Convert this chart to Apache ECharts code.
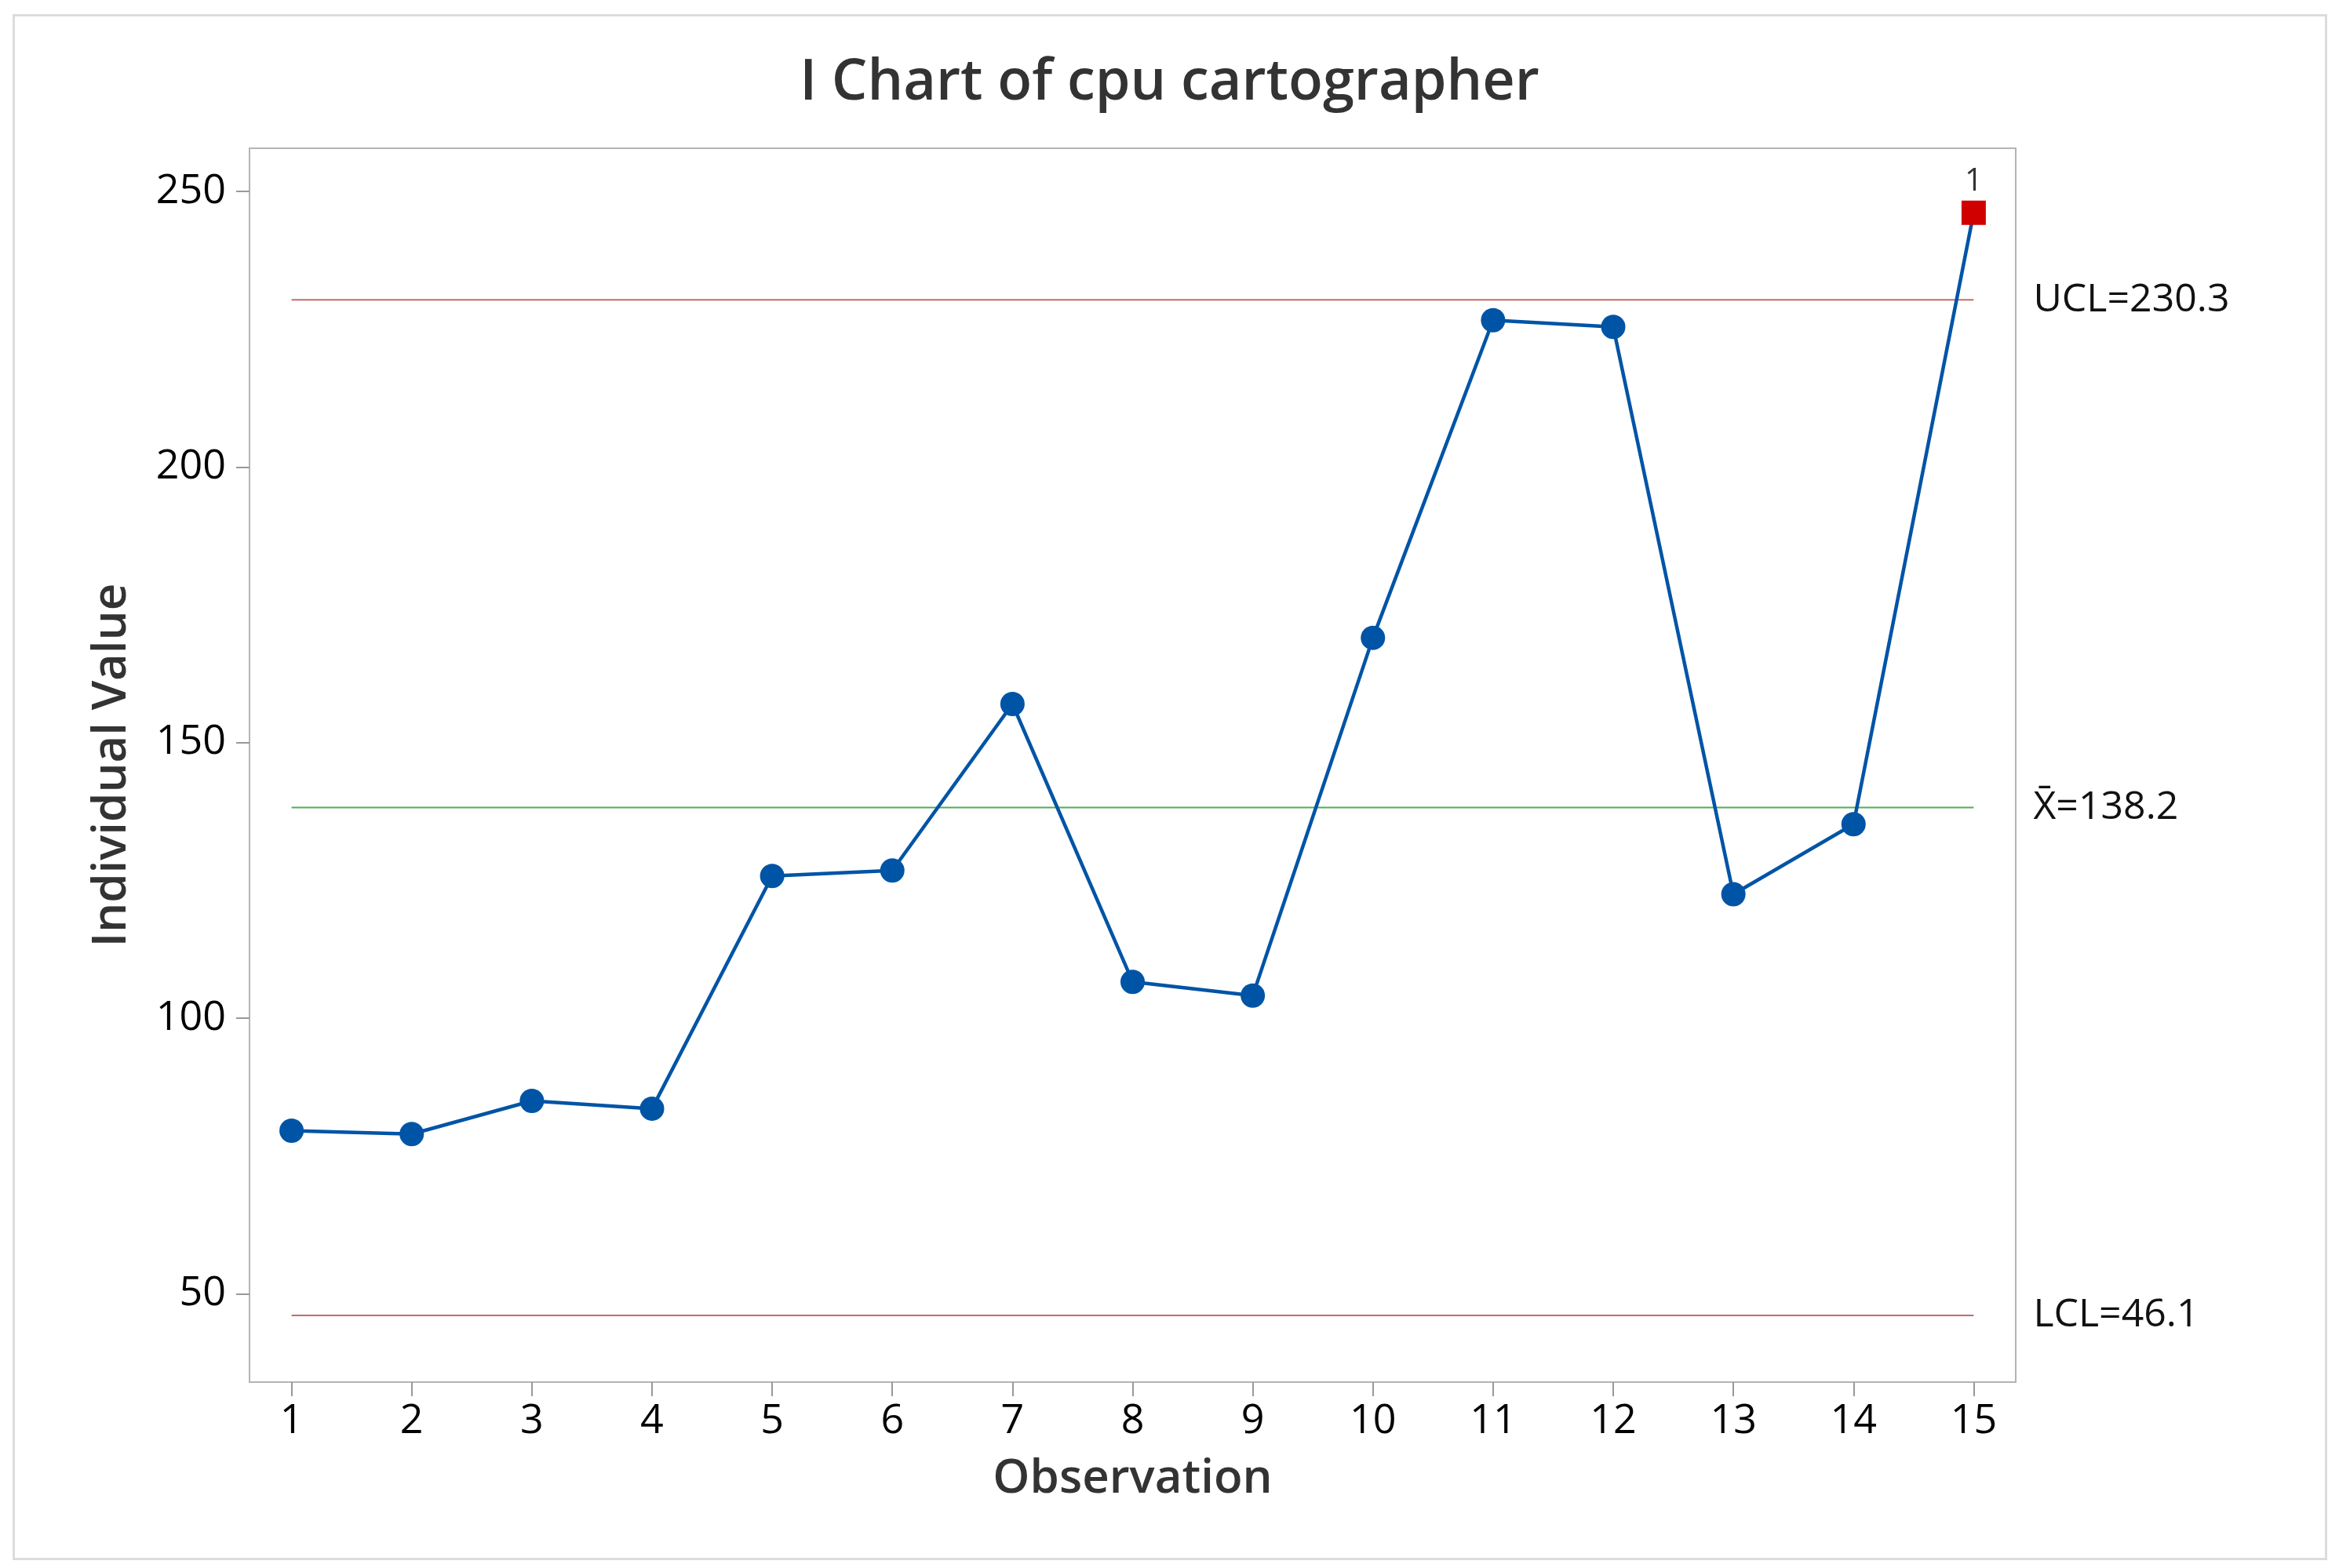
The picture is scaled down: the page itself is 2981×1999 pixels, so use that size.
<!DOCTYPE html>
<html>
<head>
<meta charset="utf-8">
<script src="https://cdn.jsdelivr.net/npm/echarts@6/dist/echarts.min.js"></script>
<style>
html,body{margin:0;padding:0;background:#fff;}
#chart{width:2981px;height:1999px;}
</style>
</head>
<body>
<div id="chart"></div>
<script>
const observations = [1,2,3,4,5,6,7,8,9,10,11,12,13,14,15];
const values = [79.6,79.0,85.0,83.6,125.8,126.8,157.0,106.6,104.1,169.0,226.6,225.4,122.5,135.2,246.1];
const outOfControl = [15];
const UCL = 230.3;
const CL = 138.2;
const LCL = 46.1;
const yTicks = [50,100,150,200,250];
const xTicks = observations;

const FONT = '"Open Sans", "Noto Sans", sans-serif';
const chart = echarts.init(document.getElementById('chart'), null, {renderer:'canvas'});

function limitSeries(name, val, color, labelText){
  return {
    name: name, type:'line', silent:true, symbol:'none', z:1,
    lineStyle:{color:color, width:2},
    data:[[observations[0], val], [observations[observations.length-1], val]],
    label:{show:false},
    endLabel:{show:true, formatter: labelText, distance: 76, color:'#111', fontSize:50, fontFamily:FONT}
  };
}

const mainData = observations.map((o,i)=>{
  if (outOfControl.indexOf(o) >= 0) {
    return {value:[o, values[i]], symbol:'rect', symbolSize:31,
      itemStyle:{color:'#d10000'},
      label:{show:true, formatter:'1', position:'top', distance:4, color:'#333', fontSize:40, fontFamily:FONT}};
  }
  return {value:[o, values[i]]};
});

chart.setOption({
  backgroundColor:'#fff',
  animation:false,
  title:{
    text:'I Chart of cpu cartographer', left:'center', top:65,
    textStyle:{fontFamily:FONT, fontSize:72, fontWeight:600, color:'#333'}
  },
  grid:{left:318, right:412, top:189, bottom:237, show:true, borderColor:'#b4b4b4', borderWidth:2, backgroundColor:'#fff'},
  xAxis:{
    type:'value', min:0.65, max:15.35,
    name:'Observation', nameLocation:'middle', nameGap:94,
    nameTextStyle:{fontFamily:FONT, fontSize:60, fontWeight:600, color:'#333'},
    axisLine:{show:false},
    axisTick:{show:true, length:18, inside:false, lineStyle:{color:'#999', width:2}, customValues:xTicks},
    axisLabel:{fontFamily:FONT, fontSize:52, color:'#000', margin:24, customValues:xTicks},
    splitLine:{show:false}
  },
  yAxis:{
    type:'value', min:34, max:257.8,
    name:'Individual Value', nameLocation:'middle', nameGap:145, nameRotate:90,
    nameTextStyle:{fontFamily:FONT, fontSize:60, fontWeight:600, color:'#333'},
    axisLine:{show:false},
    axisTick:{show:true, length:17, inside:false, lineStyle:{color:'#999', width:2}, customValues:yTicks},
    axisLabel:{fontFamily:FONT, fontSize:52, color:'#000', margin:30, customValues:yTicks},
    splitLine:{show:false}
  },
  graphic:[{
    type:'rect', left:15, top:17, silent:true, z:-10,
    shape:{width:2947, height:1968},
    style:{fill:'none', stroke:'#dcdcdc', lineWidth:3}
  }],
  series:[
    limitSeries('UCL', UCL, '#c46a6a', 'UCL=' + UCL.toFixed(1)),
    limitSeries('CL', CL, '#4cb050', 'X\u0304=' + CL.toFixed(1)),
    limitSeries('LCL', LCL, '#c46a6a', 'LCL=' + LCL.toFixed(1)),
    {
      name:'I', type:'line', z:5, symbol:'circle', symbolSize:31,
      lineStyle:{color:'#0054a6', width:4.5},
      itemStyle:{color:'#0054a6'},
      data: mainData
    }
  ]
});
</script>
</body>
</html>
